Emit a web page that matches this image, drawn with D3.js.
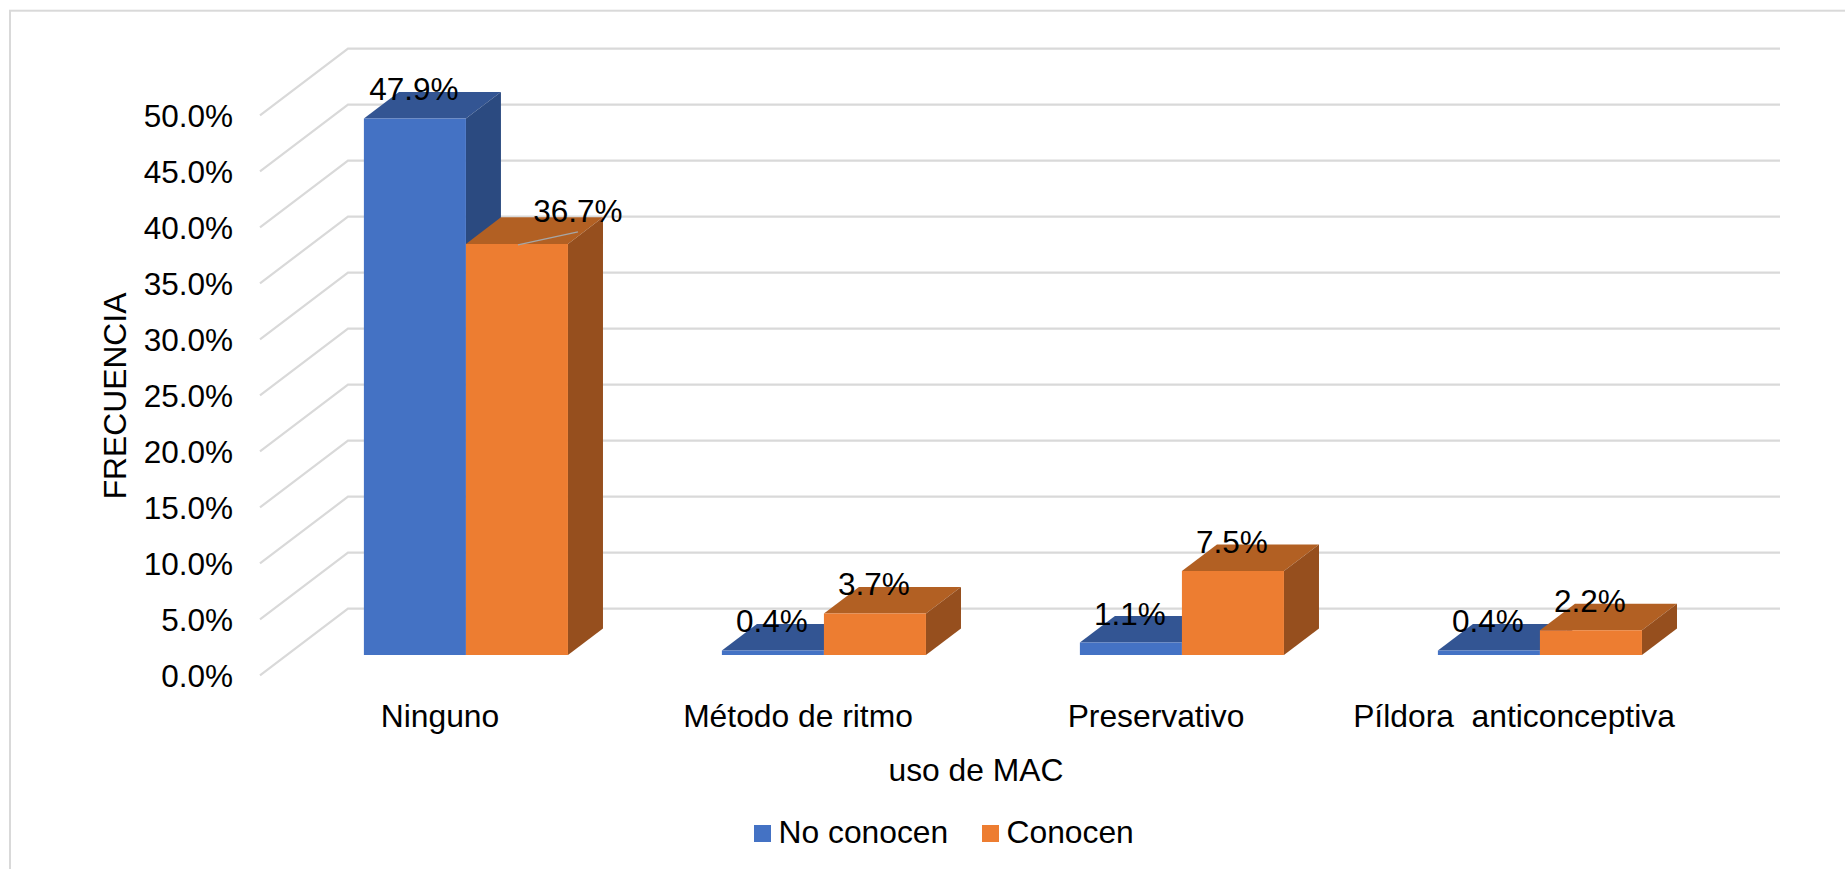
<!DOCTYPE html>
<html><head><meta charset="utf-8">
<script src="https://cdn.jsdelivr.net/npm/d3@7"></script>
<style>html,body{margin:0;background:#fff}svg{display:block}text{font-family:"Liberation Sans",Arial,sans-serif;fill:#000;white-space:pre}</style>
</head><body><div id="c"></div>
<script>
const categories = ["Ninguno","Método de ritmo","Preservativo","Píldora  anticonceptiva"];
const seriesNames = ["No conocen","Conocen"];
const noConocen = [47.9,0.4,1.1,0.4];
const conocen = [36.7,3.7,7.5,2.2];
const yTicks = [0,5,10,15,20,25,30,35,40,45,50];

const W=1845,H=869,fs=31.8;
const colors=[{front:"#4472C4",top:"#335593",side:"#2B4A80"},{front:"#ED7D31",top:"#B26023",side:"#964F1E"}];
const svg=d3.select("#c").append("svg").attr("width",W).attr("height",H);
svg.append("rect").attr("x",10).attr("y",10.7).attr("width",W+20).attr("height",H+20).attr("fill","#fff").attr("stroke","#D9D9D9").attr("stroke-width",2);

const x=d3.scaleBand().domain(categories).range([260,1692]);
const y=d3.scaleLinear().domain([0,50]).range([675.3,115.3]);
const depth={dx:88,dy:-66.6};
const barStart=.306,barEnd=.704;           // bar position inside the floor depth
const P=(px,py,t)=>[px+depth.dx*t,py+depth.dy*t];

// gridlines: left wall + back wall
const grid=svg.append("g").attr("fill","none").attr("stroke","#D9D9D9").attr("stroke-width",2.2);
grid.selectAll("path").data(yTicks).join("path").attr("d",v=>{
  const a=P(x.range()[0],y(v),0),b=P(x.range()[0],y(v),1),c=P(x.range()[1],y(v),1);
  return d3.line()([a,b,c]);
});

// y axis
const yAxis=d3.axisLeft(y).tickValues(yTicks).tickSize(0).tickPadding(0).tickFormat(v=>d3.format(".1f")(v)+"%");
const gy=svg.append("g").attr("transform","translate(233,0)").call(yAxis);
gy.select(".domain").remove();
gy.selectAll("text").attr("font-size",31.5).attr("font-family",null).attr("dy","0.35em");

// bars
const bw=x.bandwidth()*.285;
const xS=d3.scaleBand().domain(seriesNames).range([-bw,bw]);
const bars=svg.append("g");
const poly=(g,pts,fill)=>g.append("polygon").attr("points",pts.map(p=>p.join(",")).join(" ")).attr("fill",fill);
categories.forEach((c,i)=>{
  [noConocen,conocen].forEach((vals,s)=>{
    const v=vals[i],cx=x(c)+x.bandwidth()/2;
    const x0=cx+xS(seriesNames[s]),x1=x0+xS.bandwidth();
    const y0=y(0),yv=y(v),col=colors[s],g=bars.append("g");
    poly(g,[P(x0,yv,barStart),P(x1,yv,barStart),P(x1,yv,barEnd),P(x0,yv,barEnd)],col.top);
    poly(g,[P(x1,y0,barStart),P(x1,y0,barEnd),P(x1,yv,barEnd),P(x1,yv,barStart)],col.side);
    poly(g,[P(x0,y0,barStart),P(x1,y0,barStart),P(x1,yv,barStart),P(x0,yv,barStart)],col.front);
  });
});

// data labels
const labels=svg.append("g").attr("font-size",31.5).attr("text-anchor","middle");
categories.forEach((c,i)=>{
  [noConocen,conocen].forEach((vals,s)=>{
    const v=vals[i],cx=x(c)+x.bandwidth()/2,x0=cx+xS(seriesNames[s]);
    const [fx,fy]=P(x0+xS.bandwidth()/2,y(v),barStart);
    const ly=P(0,y(v),barEnd)[1];
    const moved=(i===0&&s===1);      // label dragged aside with a leader line
    const tx=fx+(moved?61:-1),ty=ly+(moved?4.5:8.5);
    if(moved){
      svg.append("line").attr("x1",fx+1).attr("y1",fy+1).attr("x2",tx).attr("y2",ty+10)
        .attr("stroke","#A6A6A6").attr("stroke-width",1.5);
    }
    labels.append("text").attr("x",tx).attr("y",ty).text(d3.format(".1f")(v)+"%");
  });
});

// x axis labels
const xAxis=d3.axisBottom(x).tickSize(0).tickPadding(0);
const gx=svg.append("g").attr("transform","translate(1,726.5)").call(xAxis);
gx.select(".domain").remove();
gx.selectAll("text").attr("font-size",fs).attr("font-family",null).attr("dy",0);

// titles
svg.append("text").attr("x",976).attr("y",781).attr("text-anchor","middle").attr("font-size",fs).text("uso de MAC");
svg.append("text").attr("transform","translate(126,396) rotate(-90)").attr("text-anchor","middle").attr("font-size",fs).text("FRECUENCIA");

// legend
const legendX=[754,982];
seriesNames.forEach((n,i)=>{
  svg.append("rect").attr("x",legendX[i]).attr("y",825).attr("width",17).attr("height",17).attr("fill",colors[i].front);
  svg.append("text").attr("x",legendX[i]+24.5).attr("y",843).attr("font-size",fs).text(n);
});
</script></body></html>
